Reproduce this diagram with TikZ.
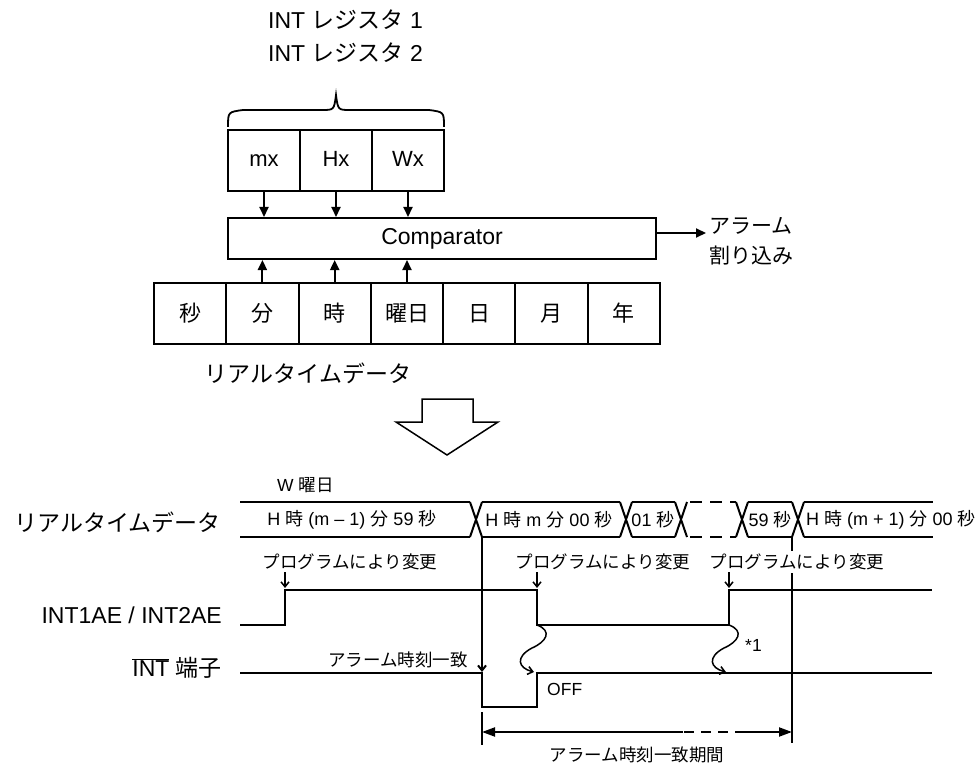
\documentclass[tikz,border=0pt]{standalone}
\usepackage{fontspec}
\setmainfont{Liberation Sans}
\newfontfamily\jp{Noto Sans CJK JP}
\newcommand\jtx[1]{{\jp #1}}
\usetikzlibrary{arrows.meta,calc}
\tikzset{
  box/.style={draw, line width=2pt, inner sep=0pt, font=\fontsize{22}{26}\selectfont},
  latbox/.style={box, text height=16pt, text depth=4pt},
  sig/.style={line width=2pt},
  blkarr/.style={line width=2pt, -{Triangle[length=10pt,width=9pt]}},
  barb/.style={line width=1.5pt, -{Straight Barb[length=5pt,width=8pt]}},
  dimtip/.style={line width=2pt, -{Triangle[length=13pt,width=9pt]}},
  big/.style={font=\fontsize{23}{28}\selectfont, inner sep=0pt},
  mid/.style={font=\fontsize{21}{32}\selectfont, inner sep=0pt},
  bus/.style={font=\fontsize{18}{22}\selectfont, inner sep=0pt},
  small/.style={font=\fontsize{17.5}{21}\selectfont, inner sep=0pt},
}
\begin{document}
\begin{tikzpicture}[x=1pt,y=-1pt]
\useasboundingbox (0,0) rectangle (979,767);
% ---------- top block diagram ----------
\node[big, anchor=west] (reg1lbl) at (268,20) {INT \jtx{レジスタ} 1};
\node[big, anchor=west] (reg2lbl) at (268,53) {INT \jtx{レジスタ} 2};
\draw[line width=1.8pt] (228,127) .. controls (228,112) .. (243,110) -- (322,110)
   .. controls (334,110) .. (336,95) .. controls (338,110) .. (350,110) -- (429,110)
   .. controls (444,112) .. (444,127);
\node[latbox, minimum width=72pt, minimum height=61pt] (mx) at (264,160.5) {mx};
\node[latbox, minimum width=72pt, minimum height=61pt] (hx) at (336,160.5) {Hx};
\node[latbox, minimum width=72pt, minimum height=61pt] (wx) at (408,160.5) {Wx};
\node[box, minimum width=428pt, minimum height=41pt, font=\fontsize{23}{28}\selectfont] (cmp) at (442,238.5) {Comparator};
\foreach \n in {mx,hx,wx} \draw[blkarr] (\n.south) -- (\n.south |- cmp.north);
\node[box, minimum width=72.3pt, minimum height=61pt] (sec) at (190.1,313.5) {\jtx{秒}};
\node[box, minimum width=72.3pt, minimum height=61pt] (min) at (262.4,313.5) {\jtx{分}};
\node[box, minimum width=72.3pt, minimum height=61pt] (hour) at (334.7,313.5) {\jtx{時}};
\node[box, minimum width=72.3pt, minimum height=61pt] (wday) at (407,313.5) {\jtx{曜日}};
\node[box, minimum width=72.3pt, minimum height=61pt] (day) at (479.3,313.5) {\jtx{日}};
\node[box, minimum width=72.3pt, minimum height=61pt] (mon) at (551.6,313.5) {\jtx{月}};
\node[box, minimum width=72.3pt, minimum height=61pt] (year) at (623.9,313.5) {\jtx{年}};
\foreach \n in {min,hour,wday} \draw[blkarr] (\n.north) -- (\n.north |- cmp.south);
\coordinate (alarm) at (706,233);
\draw[blkarr] (cmp.east |- alarm) -- (alarm);
\node[mid, anchor=west] (alarmlbl1) at (709,226) {\jtx{アラーム}};
\node[mid, anchor=west] (alarmlbl2) at (709,256) {\jtx{割り込み}};
\node[big] (rtlbl) at (308,373) {\jtx{リアルタイムデータ}};
\draw[line width=1.5pt] (422,399) -- (473,399) -- (473,422) -- (498,422) -- (447,455)
   -- (396,422) -- (422,422) -- cycle;
% ---------- timing diagram ----------
\node[big, anchor=east] (rtdata) at (221,522) {\jtx{リアルタイムデータ}};
\node[big, anchor=east] (aelbl) at (222,615) {INT1AE / INT2AE};
\node[big, anchor=east] (intlbl) at (222,668) {$\overline{\hbox{INT}}$ \jtx{端子}};
\node[small, anchor=west] (wlbl) at (277,485) {W \jtx{曜日}};
% bus
\draw[sig] (240,502) -- (470,502) (240,537) -- (470,537);
\draw[sig] (482,502) -- (620,502) (482,537) -- (620,537);
\draw[sig] (632,502) -- (675,502) (632,537) -- (675,537);
\draw[sig, dash pattern=on 12pt off 8pt] (690,502) -- (736,502) (690,537) -- (736,537);
\draw[sig] (748,502) -- (792,502) (748,537) -- (792,537);
\draw[sig] (804,502) -- (933,502) (804,537) -- (933,537);
\foreach \c in {476,626,681,742,798}
  \draw[sig] (\c-6,502) -- (\c+6,537) (\c-6,537) -- (\c+6,502);
\node[bus] (b1) at (352,520) {H \jtx{時} (m – 1) \jtx{分} 59 \jtx{秒}};
\node[bus] (b2) at (549,520) {H \jtx{時} m \jtx{分} 00 \jtx{秒}};
\node[bus] (b3) at (653,520) {01 \jtx{秒}};
\node[bus] (b4) at (770,520) {59 \jtx{秒}};
\node[bus, anchor=west] (b5) at (806,520) {H \jtx{時} (m + 1) \jtx{分} 00 \jtx{秒}};
% reference vertical lines
\coordinate (v1top) at (482,537);
\coordinate (v1hit) at (482,672);
\draw[barb, line width=2pt] (v1top) -- (v1hit);
\draw[line width=2pt] (792,537) -- (792,743);
% program change labels
\node[small] (pc1) at (350,562) {\jtx{プログラムにより変更}};
\node[small] (pc2) at (603,562) {\jtx{プログラムにより変更}};
\node[small, fill=white, inner ysep=3pt] (pc3) at (797,562) {\jtx{プログラムにより変更}};
\draw[barb] (285,572) -- (285,588);
\draw[barb] (537,572) -- (537,588);
\draw[barb] (729,572) -- (729,588);
% INT1AE / INT2AE
\draw[sig] (240,625) -- (285,625) -- (285,590) -- (537,590) -- (537,625) -- (729,625)
   -- (729,590) -- (932,590);
% INT pin
\draw[sig] (240,673) -- (482,673) -- (482,707) -- (537,707) -- (537,673) -- (932,673);
\node[small, anchor=east] (match) at (468,660) {\jtx{アラーム時刻一致}};
\node[small, anchor=west] (off) at (547,689) {OFF};
% wavy arrows
\draw[barb] (537,625) .. controls (553,631) and (546,642) .. (532,648)
   .. controls (515,657) and (518,668) .. (534,672);
\draw[barb] (729,625) .. controls (745,631) and (738,642) .. (724,648)
   .. controls (707,657) and (710,668) .. (726,672);
\node[small, anchor=west] (note) at (745,645) {*1};
% alarm match period
\draw[line width=2pt] (482,712) -- (482,745);
\coordinate (dl) at (482,732);
\coordinate (dr) at (792,732);
\draw[dimtip] (683,732) -- (dl);
\draw[line width=2pt, dash pattern=on 10pt off 7pt] (684,732) -- (740,732);
\draw[dimtip] (740,732) -- (dr);
\node[small] (period) at (637,755) {\jtx{アラーム時刻一致期間}};
\end{tikzpicture}
\end{document}
